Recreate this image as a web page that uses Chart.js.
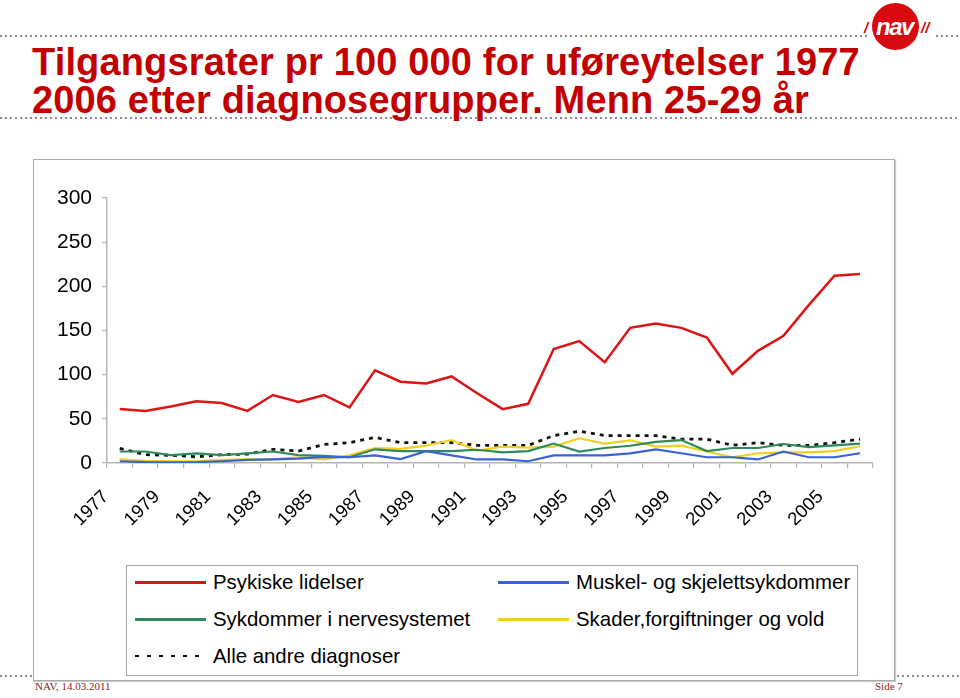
<!DOCTYPE html>
<html>
<head>
<meta charset="utf-8">
<script src="https://cdn.jsdelivr.net/npm/chart.js@4.4.1/dist/chart.umd.min.js"></script>
<style>
  body { margin: 0; width: 960px; height: 698px; background: #fff; position: relative; overflow: hidden; font-family: "Liberation Sans", Arial, sans-serif; }
  .dots { position: absolute; height: 2px; background: repeating-linear-gradient(to right, #8a8a8a 0 2px, transparent 2px 5px); }
  .title { position: absolute; left: 32px; top: 44px; font-size: 38px; line-height: 37.5px; font-weight: bold; color: #c30000; white-space: nowrap; letter-spacing: 0.15px; }
  .logo { position: absolute; left: 872px; top: 3px; width: 47px; height: 47px; border-radius: 50%; background: #d8090f; }
  .logo span { position: absolute; left: 4px; top: 10px; color: #fff; font: italic bold 24px "Liberation Sans", Arial, sans-serif; letter-spacing: -1.5px; }
  .slash { position: absolute; color: #d8090f; font: italic bold 15px "Liberation Sans", Arial, sans-serif; top: 19px; }
  .frame { position: absolute; left: 33px; top: 159px; width: 860px; height: 520px; border: 1px solid #aaa; box-shadow: 1px 1px 1px #ccc; }
  .chartbox { position: absolute; left: 33px; top: 159px; width: 861px; height: 400px; }
  #legend { position: absolute; left: 126px; top: 565px; width: 730px; height: 109px; border: 1px solid #a8a8a8; background: #fff; }
  .item { position: absolute; height: 24px; font-size: 20.4px; line-height: 24px; color: #000; white-space: nowrap; }
  .item i { position: absolute; left: 0; top: 11px; width: 71px; }
  .item b { position: absolute; left: 78px; top: 0; font-weight: normal; }
  .foot { position: absolute; top: 680px; font: 11px "Liberation Serif", "Times New Roman", serif; color: #8b2323; }
</style>
</head>
<body>
<div class="dots" style="left:0;top:35px;width:868px"></div>
<div class="dots" style="left:936px;top:35px;width:24px"></div>
<div class="dots" style="left:0;top:117px;width:960px"></div>
<div class="slash" style="left:864px">/</div>
<div class="logo"><span>nav</span></div>
<div class="slash" style="left:921px">//</div>
<div class="title">Tilgangsrater pr 100 000 for uføreytelser 1977<br>2006 etter diagnosegrupper. Menn 25-29 år</div>

<div class="dots" style="left:0;top:675px;width:33px"></div>
<div class="dots" style="left:897px;top:675px;width:63px"></div>
<div class="frame"></div>
<div class="chartbox"><canvas id="chart"></canvas></div>
<div id="legend"></div>
<div class="foot" style="left:35px">NAV, 14.03.2011</div>
<div class="foot" style="left:875px">Side 7</div>

<script>
// data
const years = ['1977', '1978', '1979', '1980', '1981', '1982', '1983', '1984', '1985', '1986',
    '1987', '1988', '1989', '1990', '1991', '1992', '1993', '1994', '1995', '1996',
    '1997', '1998', '1999', '2000', '2001', '2002', '2003', '2004', '2005', '2006'];

const psykiske = [61, 59, 64, 70, 68, 59, 77, 69, 77, 63, 105, 92, 90, 98, 79,
    61, 67, 129, 138, 114, 153, 158, 153, 142, 101, 127, 144, 179, 212, 214];
const muskel = [2, 1, 0.7, 1, 2, 3.5, 4, 5, 7, 6.5, 8.7, 4.5, 13.5, 8.7, 4,
    4, 2, 8.7, 8.7, 8.7, 11, 15.5, 11, 6.5, 6.5, 4, 13, 6.5, 6.5, 11];
const nerve = [13, 13, 9, 11, 9, 11, 13, 9, 8, 6.5, 15.5, 13.5, 13.5, 13.5, 15,
    12, 13.5, 22, 13, 17, 19.5, 24, 26, 13.5, 17, 17, 21.5, 18, 20, 22];
const skader = [4, 2.5, 2, 2, 3.5, 4, 4, 6.5, 4, 8.7, 17, 16, 19.6, 26, 14,
    18.5, 17.5, 18.5, 28, 22, 25.7, 18.5, 19.6, 13, 6.5, 11, 12, 12, 13.5, 19];
const andre = [16.6, 9.4, 8.7, 7, 9.4, 10, 15.5, 13.5, 21, 23, 29, 23, 23, 23, 20,
    20, 20, 31, 36, 31, 31, 31, 27, 27, 20, 23, 20, 20, 23, 27];

const yTicks = [0, 50, 100, 150, 200, 250, 300];

const series = [
    { label: 'Psykiske lidelser', data: psykiske, color: '#dc1414', width: 2.5 },
    { label: 'Muskel- og skjelettsykdommer', data: muskel, color: '#3a62d8', width: 2.2 },
    { label: 'Sykdommer i nervesystemet', data: nerve, color: '#2e8a5a', width: 2.2 },
    { label: 'Skader,forgiftninger og vold', data: skader, color: '#f0d020', width: 2.2 },
    { label: 'Alle andre diagnoser', data: andre, color: '#111', width: 2.8, dash: [4, 5] }
];

const axisGray = '#b5b5b5';

const ctx = document.getElementById('chart').getContext('2d');
new Chart(ctx, {
    type: 'line',
    data: {
        labels: years,
        datasets: series.map(s => ({
            label: s.label,
            data: s.data,
            borderColor: s.color,
            backgroundColor: s.color,
            borderWidth: s.width,
            borderDash: s.dash || [],
            pointRadius: 0,
            tension: 0,
            fill: false
        }))
    },
    options: {
        responsive: true,
        maintainAspectRatio: false,
        animation: false,
        layout: { padding: { left: 0, right: 17, top: 39, bottom: 0 } },
        plugins: { legend: { display: false }, tooltip: { enabled: false } },
        scales: {
            x: {
                offset: true,
                grid: { offset: true, drawOnChartArea: false, tickLength: 5, color: axisGray, lineWidth: 1.2 },
                border: { color: axisGray, width: 1.5 },
                ticks: {
                    autoSkip: false,
                    minRotation: 45,
                    maxRotation: 45,
                    padding: 18,
                    labelOffset: -14,
                    color: '#000',
                    font: { family: '"Liberation Sans", Arial, sans-serif', size: 18.5 },
                    callback: function(value, index) {
                        return index % 2 === 0 ? years[index] : '';
                    }
                },
                afterFit: function(scale) { scale.height = 96; }
            },
            y: {
                min: 0,
                max: 300,
                afterBuildTicks: function(scale) { scale.ticks = yTicks.map(v => ({ value: v })); },
                grid: { drawOnChartArea: false, tickLength: 5, color: axisGray, lineWidth: 1.2 },
                border: { color: axisGray, width: 1.5 },
                ticks: {
                    padding: 10,
                    color: '#000',
                    font: { family: '"Liberation Sans", Arial, sans-serif', size: 21 }
                },
                afterFit: function(scale) { scale.width = 74; }
            }
        }
    }
});

// legend in two columns, as on the slide
const legend = document.getElementById('legend');
const spots = [[8, 4], [371, 4], [8, 41], [371, 41], [8, 78]];
series.forEach((s, i) => {
    const item = document.createElement('div');
    item.className = 'item';
    item.style.left = spots[i][0] + 'px';
    item.style.top = spots[i][1] + 'px';
    const line = document.createElement('i');
    if (s.dash) {
        line.style.height = '2px';
        line.style.background = 'repeating-linear-gradient(to right, ' + s.color + ' 0 4px, transparent 4px 12px)';
    } else {
        line.style.height = '2.5px';
        line.style.background = s.color;
    }
    const text = document.createElement('b');
    text.textContent = s.label;
    item.appendChild(line);
    item.appendChild(text);
    legend.appendChild(item);
});
</script>
</body>
</html>
